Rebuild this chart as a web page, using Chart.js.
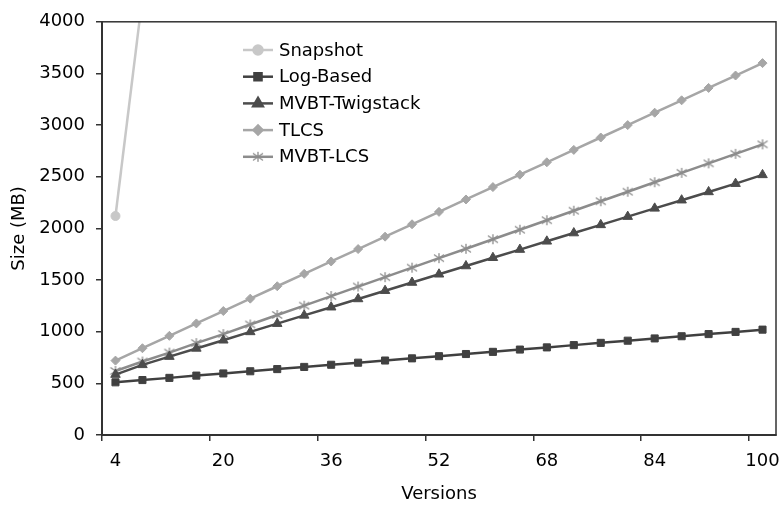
<!DOCTYPE html>
<html>
<head>
<meta charset="utf-8">
<script src="https://cdn.jsdelivr.net/npm/chart.js@4.4.1/dist/chart.umd.min.js"></script>
<style>
  html, body { margin: 0; padding: 0; background: #fff; }
  #wrap { width: 784px; height: 508px; }
</style>
</head>
<body>
<div id="wrap"><canvas id="chart0"></canvas></div>
<script>
// x categories (every 4th version)
const versions = [4, 8, 12, 16, 20, 24, 28, 32, 36, 40, 44, 48, 52, 56, 60, 64, 68, 72, 76, 80, 84, 88, 92, 96, 100];

// sizes in MB
const snapshot = [2120, 4240];
const logBased = [510, 532, 553, 575, 596, 617, 638, 659, 680, 700, 721, 742, 763, 784, 805, 827, 848, 870, 892, 913, 935, 956, 977, 998, 1020];
const mvbtTwigstack = [585, 679, 759, 838, 917, 998, 1078, 1158, 1237, 1317, 1397, 1476, 1556, 1636, 1716, 1795, 1875, 1955, 2034, 2114, 2194, 2273, 2353, 2433, 2518];
const tlcs = [720, 840, 960, 1080, 1200, 1320, 1440, 1560, 1680, 1800, 1920, 2040, 2160, 2280, 2400, 2520, 2640, 2760, 2880, 3000, 3120, 3240, 3360, 3480, 3600];
const mvbtLcs = [620, 711, 798, 890, 977, 1070, 1162, 1252, 1345, 1437, 1528, 1620, 1712, 1803, 1895, 1987, 2079, 2171, 2263, 2355, 2447, 2538, 2630, 2722, 2814];

const seriesNames = ["Snapshot", "Log-Based", "MVBT-Twigstack", "TLCS", "MVBT-LCS"];
const yTicks = { min: 0, max: 4000, step: 500 };
const labelEvery = 4;

const FONT = "'DejaVu Sans', Verdana, sans-serif";

// excel-like star marker: an X with a vertical bar
function starMarker(color, size) {
    const c = document.createElement("canvas");
    c.width = size;
    c.height = size;
    const g = c.getContext("2d");
    const m = size / 2;
    const r = m - 1;
    g.strokeStyle = color;
    g.lineWidth = 1.3;
    g.beginPath();
    g.moveTo(m - r, m - r * 0.7); g.lineTo(m + r, m + r * 0.7);
    g.moveTo(m - r, m + r * 0.7); g.lineTo(m + r, m - r * 0.7);
    g.moveTo(m, m - r); g.lineTo(m, m + r);
    g.stroke();
    return c;
}

function makeSet(label, data, color, style, radius) {
    return {
        label: label,
        data: data,
        borderColor: color,
        backgroundColor: color,
        pointBackgroundColor: color,
        pointBorderColor: color,
        borderWidth: 2.5,
        pointStyle: style,
        pointRadius: radius,
        pointBorderWidth: 1,
        tension: 0,
    };
}

// legend drawn inside the plot, like the original
const insideLegend = {
    id: "insideLegend",
    afterDraw(chart, args, opts) {
        const ctx = chart.ctx;
        chart.data.datasets.forEach((ds, i) => {
            const y = opts.top + i * opts.rowGap;
            ctx.save();
            ctx.strokeStyle = ds.borderColor;
            ctx.lineWidth = ds.borderWidth;
            ctx.beginPath();
            ctx.moveTo(opts.left, y);
            ctx.lineTo(opts.left + opts.lineLen, y);
            ctx.stroke();
            ctx.fillStyle = ds.pointBackgroundColor;
            ctx.strokeStyle = ds.pointBorderColor;
            Chart.helpers.drawPoint(ctx, {
                pointStyle: ds.pointStyle,
                radius: ds.pointRadius,
                borderWidth: ds.pointBorderWidth,
                rotation: 0,
            }, opts.left + opts.lineLen / 2, y);
            ctx.fillStyle = "#000";
            ctx.font = opts.fontSize + "px " + FONT;
            ctx.textBaseline = "middle";
            ctx.textAlign = "left";
            ctx.fillText(ds.label, opts.left + opts.lineLen + opts.gap, y + 1);
            ctx.restore();
        });
    },
};

// box around the plot area
const frame = {
    id: "frame",
    afterDraw(chart) {
        const a = chart.chartArea;
        const ctx = chart.ctx;
        ctx.save();
        ctx.strokeStyle = "#333";
        ctx.lineWidth = 1.5;
        ctx.strokeRect(a.left, a.top, a.right - a.left, a.bottom - a.top);
        ctx.restore();
    },
};

const ctx = document.getElementById("chart0").getContext("2d");
window.chart = new Chart(ctx, {
    type: "line",
    data: {
        labels: versions,
        datasets: [
            makeSet(seriesNames[0], snapshot, "#c8c8c8", "circle", 4.5),
            makeSet(seriesNames[1], logBased, "#404040", "rect", 5),
            makeSet(seriesNames[2], mvbtTwigstack, "#4c4c4c", "triangle", 5.5),
            makeSet(seriesNames[3], tlcs, "#a6a6a6", "rectRot", 4.5),
            makeSet(seriesNames[4], mvbtLcs, "#8c8c8c", starMarker("#8c8c8c", 12), 6),
        ],
    },
    options: {
        responsive: true,
        maintainAspectRatio: false,
        animation: false,
        layout: { padding: { top: 9, right: 8, left: 0, bottom: 0 } },
        scales: {
            x: {
                type: "category",
                offset: true,
                afterFit(scale) {
                    scale.height = 73;
                    scale.paddingLeft = 0;
                    scale.paddingRight = 0;
                },
                grid: {
                    offset: true,
                    drawOnChartArea: false,
                    drawTicks: true,
                    tickLength: 6,
                    color: (c) => (c.index % labelEvery === 0 ? "#333" : "rgba(0,0,0,0)"),
                    lineWidth: 1.5,
                },
                border: { display: true, color: "#333", width: 2 },
                ticks: {
                    autoSkip: false,
                    maxRotation: 0,
                    padding: 10,
                    color: "#000",
                    font: { family: FONT, size: 18 },
                    callback(val, idx) {
                        return idx % labelEvery === 0 ? String(versions[idx]) : "";
                    },
                },
                title: {
                    display: true,
                    text: "Versions",
                    color: "#000",
                    font: { family: FONT, size: 18 },
                    padding: { top: 0, bottom: 3 },
                },
            },
            y: {
                min: yTicks.min,
                max: yTicks.max,
                afterFit(scale) { scale.width = 102; },
                grid: {
                    drawOnChartArea: false,
                    drawTicks: true,
                    tickLength: 6,
                    color: "#333",
                    lineWidth: 1.5,
                },
                border: { display: true, color: "#333", width: 2 },
                ticks: {
                    stepSize: yTicks.step,
                    padding: 11,
                    color: "#000",
                    font: { family: FONT, size: 18 },
                    callback: (v) => String(v),
                },
                title: {
                    display: true,
                    text: "Size (MB)",
                    color: "#000",
                    font: { family: FONT, size: 18 },
                    padding: { top: 9, bottom: 0 },
                },
            },
        },
        plugins: {
            legend: { display: false },
            tooltip: { enabled: false },
            insideLegend: { left: 243, top: 50, rowGap: 26.7, lineLen: 30, gap: 6, fontSize: 18 },
        },
    },
    plugins: [insideLegend, frame],
});
</script>
</body>
</html>
